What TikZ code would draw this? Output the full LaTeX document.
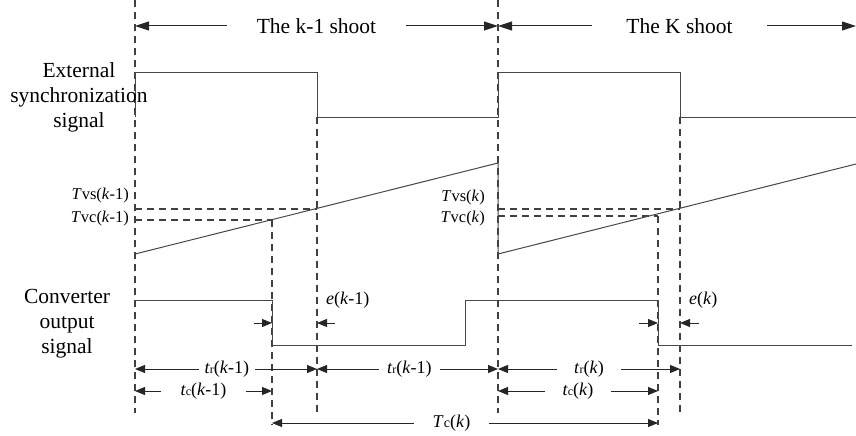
\documentclass[tikz,border=0pt]{standalone}
\usepackage{fontspec}
\setmainfont{Liberation Serif}
\usetikzlibrary{arrows.meta}
\newcommand{\sm}[1]{{\fontsize{12}{12}\selectfont #1}}
\newcommand{\smc}[1]{{\fontsize{14}{14}\selectfont #1}}
\begin{document}
\begin{tikzpicture}[x=1pt,y=-1pt,
  sig/.style={line width=1pt, draw=black!72},
  guide/.style={line width=1.1pt, draw=black!75, dash pattern=on 7pt off 5pt},
  dimline/.style={line width=1pt, draw=black!85, {Triangle[length=10pt,width=8pt]}-{Triangle[length=10pt,width=8pt]}},
  topline/.style={line width=1pt, draw=black!85, {Triangle[length=14pt,width=9pt]}-{Triangle[length=14pt,width=9pt]}},
  onearrow/.style={line width=1pt, draw=black!85, -{Triangle[length=10pt,width=8pt]}},
  big/.style={font=\fontsize{21.5}{25}\selectfont, align=center, inner sep=0pt},
  lab/.style={font=\fontsize{18}{20}\selectfont, inner sep=0pt},
  tlab/.style={font=\fontsize{16.5}{20}\selectfont, inner sep=0pt},
  gap/.style={fill=white, inner ysep=1pt}
]
\useasboundingbox (0,0) rectangle (856,436);

% key coordinates
\coordinate (A0) at (135,0);   \coordinate (A1) at (135,413);
\coordinate (B0) at (317,117); \coordinate (B1) at (317,413);
\coordinate (C0) at (498,0);   \coordinate (C1) at (498,413);
\coordinate (D0) at (680,117); \coordinate (D1) at (680,413);
\coordinate (E0) at (272,220); \coordinate (E1) at (272,425);
\coordinate (F0) at (658,216); \coordinate (F1) at (658,425);

% guide dashed lines
\draw[guide] (A0) -- (A1);
\draw[guide] (B0) -- (B1);
\draw[guide] (C0) -- (C1);
\draw[guide] (D0) -- (D1);
\draw[guide] (E0) -- (E1);
\draw[guide] (F0) -- (F1);
\draw[guide] (135,209) -- (317,209);
\draw[guide] (135,220) -- (E0);
\draw[guide] (498,209) -- (680,209);
\draw[guide] (498,216) -- (F0);

% external synchronization signal
\draw[sig] (135,117) -- (135,72) -- (317,72) -- (317,117) -- (498,117) -- (498,72) -- (680,72) -- (680,117) -- (856,117);
% ramps
\draw[sig] (135,254) -- (498,163) -- (498,254) -- (856,164);
% converter output signal
\draw[sig] (135,300) -- (272,300) -- (272,345) -- (465,345) -- (465,300) -- (658,300) -- (658,345) -- (852,345);

% left labels
\node[big] (ext) at (79,97) {External\\synchronization\\signal};
\node[big] (conv) at (67,324) {Converter\\output\\signal};

% top shoot arrows
\draw[topline] (A0 |- 0,26) -- node[big, gap, inner xsep=29.5pt] (t1) {The k-1 shoot} (C0 |- 0,26);
\coordinate (R) at (856,26);
\draw[topline] (C0 |- 0,26) -- node[big, gap, inner xsep=34pt, pos=0.507] (t2) {The K shoot} (R);

% threshold labels
\node[tlab, anchor=east] (tvs1) at (129,196) {\textit{T}vs(\textit{k}-1)};
\node[tlab, anchor=east] (tvc1) at (129,219) {\textit{T}vc(\textit{k}-1)};
\node[tlab, anchor=east] (tvs2) at (485,198) {\textit{T}vs(\textit{k})};
\node[tlab, anchor=east] (tvc2) at (485,219) {\textit{T}vc(\textit{k})};

% error arrows
\coordinate (e1a) at (254,323); \coordinate (e1b) at (272,323);
\coordinate (e1c) at (335,323); \coordinate (e1d) at (317,323);
\draw[onearrow] (e1a) -- (e1b);
\draw[onearrow] (e1c) -- (e1d);
\node[lab, anchor=west] (ek1) at (326,300) {\textit{e}(\textit{k}-1)};
\coordinate (e2a) at (639,323); \coordinate (e2b) at (658,323);
\coordinate (e2c) at (699,323); \coordinate (e2d) at (680,323);
\draw[onearrow] (e2a) -- (e2b);
\draw[onearrow] (e2c) -- (e2d);
\node[lab, anchor=west] (ek2) at (689,300) {\textit{e}(\textit{k})};

% dimension lines
\draw[dimline] (A0 |- 0,369) -- node[lab, gap, inner xsep=6pt, pos=0.505] (tr1) {\textit{t}\sm{r}(\textit{k}-1)} (B0 |- 0,369);
\draw[dimline] (B0 |- 0,369) -- node[lab, gap, inner xsep=8pt, pos=0.51] (tr2) {\textit{t}\sm{r}(\textit{k}-1)} (C0 |- 0,369);
\draw[dimline] (C0 |- 0,369) -- node[lab, gap, inner xsep=17pt] (tr3) {\textit{t}\sm{r}(\textit{k})} (D0 |- 0,369);
\draw[dimline] (A0 |- 0,391) -- node[lab, gap, inner xsep=20pt] (tc1) {\textit{t}\sm{c}(\textit{k}-1)} (E0 |- 0,391);
\draw[dimline] (C0 |- 0,391) -- node[lab, gap, inner xsep=18pt] (tc2) {\textit{t}\sm{c}(\textit{k})} (F0 |- 0,391);
\draw[dimline] (E0 |- 0,423) -- node[lab, gap, inner xsep=19pt, pos=0.465] (Tc) {\textit{T}\smc{c}(\textit{k})} (F0 |- 0,423);
\end{tikzpicture}
\end{document}
